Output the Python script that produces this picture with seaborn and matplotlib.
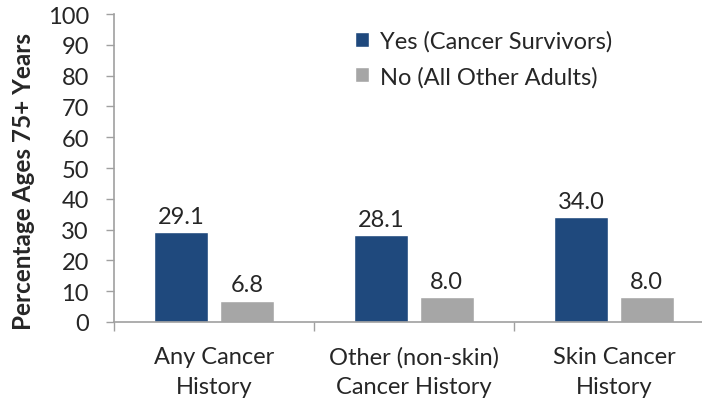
import pandas as pd
import matplotlib
matplotlib.use("Agg")
import matplotlib.pyplot as plt
import seaborn as sns

# values
categories = ["Any Cancer\nHistory", "Other (non-skin)\nCancer History", "Skin Cancer\nHistory"]
groups = ["Yes (Cancer Survivors)", "No (All Other Adults)"]
yes_values = [29.1, 28.1, 34.0]
no_values = [6.8, 8.0, 8.0]
y_ticks = list(range(0, 101, 10))

BLUE = "#1F497D"
GREY = "#A6A6A6"
AXIS = "#A0A0A0"
FS = 17

sns.set_style("white")
plt.rcParams["font.family"] = ["Lato", "DejaVu Sans"]

df = pd.DataFrame({
    "category": categories * 2,
    "group": [groups[0]] * 3 + [groups[1]] * 3,
    "value": yes_values + no_values,
})

fig = plt.figure(figsize=(7.02, 4.06), dpi=100)
ax = fig.add_axes([114 / 702, 83 / 406, 600 / 702, 308 / 406])

sns.barplot(data=df, x="category", y="value", hue="group", order=categories,
            hue_order=groups, palette=[BLUE, GREY], width=0.655, gap=0.18,
            saturation=1, errorbar=None, ax=ax)

# value labels above bars
for container in ax.containers:
    for bar in container:
        h = bar.get_height()
        ax.annotate(f"{h:.1f}", (bar.get_x() + bar.get_width() / 2, h),
                    xytext=(0, 7), textcoords="offset points",
                    ha="center", va="baseline", fontsize=FS)

ax.set_xlim(-0.5, 2.5)
ax.set_ylim(0, 100)
ax.set_yticks(y_ticks)
ax.set_xlabel("")
ax.set_ylabel("")

for side in ["top", "right"]:
    ax.spines[side].set_visible(False)
for side in ["left", "bottom"]:
    ax.spines[side].set_color(AXIS)
    ax.spines[side].set_linewidth(1.2)

ax.tick_params(axis="y", direction="out", length=6, width=1, color=AXIS,
               pad=12, labelsize=FS, left=True)
ax.tick_params(axis="x", which="major", length=0, pad=17, labelsize=FS)
ax.set_xticks([-0.5, 0.5, 1.5, 2.5], minor=True)
ax.tick_params(axis="x", which="minor", direction="out", length=6.5, width=1,
               color=AXIS, bottom=True)
for lbl in ax.get_xticklabels():
    lbl.set_linespacing(1.55)

fig.text(24 / 702, 0.553, "Percentage Ages 75+ Years", rotation=90,
         ha="center", va="center", fontsize=17.5, fontweight="bold")

handles, labels = ax.get_legend_handles_labels()
ax.legend(handles, labels, loc="upper left", frameon=False,
          bbox_to_anchor=(355 / 702, 1 - 31 / 406), bbox_transform=fig.transFigure,
          fontsize=FS, handlelength=0.6, handleheight=0.6, handletextpad=0.45,
          labelspacing=0.6, borderpad=0, borderaxespad=0)

fig.savefig("out.png", dpi=100)
